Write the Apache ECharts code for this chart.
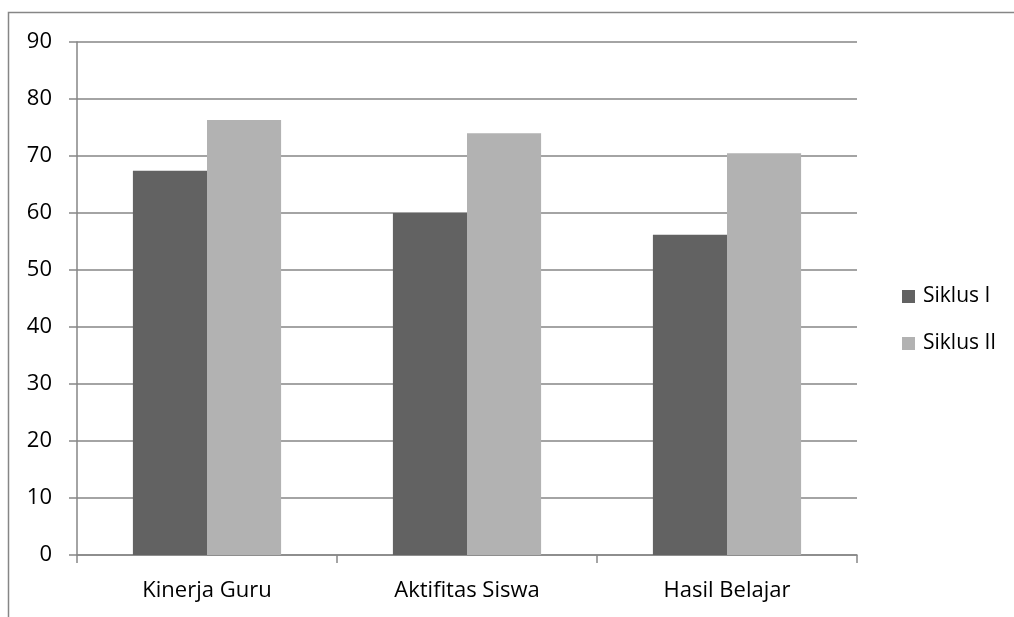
<!DOCTYPE html>
<html>
<head>
<meta charset="utf-8">
<script src="https://cdn.jsdelivr.net/npm/echarts@6/dist/echarts.min.js"></script>
<style>
  html, body { margin: 0; padding: 0; background: #fff; }
  #chart { width: 1014px; height: 617px; }
</style>
</head>
<body>
<div id="chart"></div>
<script>
// data
var categories = ["Kinerja Guru", "Aktifitas Siswa", "Hasil Belajar"];
var siklus1 = [67.4, 60.0, 56.2];
var siklus2 = [76.3, 74.0, 70.5];
var yTicks = { min: 0, max: 90, interval: 10 };

var gridColor = "#868686";
var font = "'Open Sans', 'Liberation Sans', sans-serif";

var chart = echarts.init(document.getElementById("chart"));
chart.setOption({
  backgroundColor: "#fff",
  animation: false,
  graphic: [
    {
      type: "rect",
      shape: { x: 8.5, y: 12.5, width: 1020, height: 640 },
      style: { fill: "none", stroke: gridColor, lineWidth: 1.5 },
      silent: true
    }
  ],
  grid: { left: 77, right: 157, top: 42, bottom: 62 },
  legend: {
    orient: "vertical",
    left: 897,
    top: 281,
    icon: "rect",
    itemWidth: 13,
    itemHeight: 13,
    itemGap: 26,
    textStyle: { fontFamily: font, fontSize: 21, color: "#000", padding: [0, 0, 0, 3] },
    data: ["Siklus I", "Siklus II"]
  },
  xAxis: {
    type: "category",
    data: categories,
    axisLine: { show: true, lineStyle: { color: gridColor, width: 1.5 } },
    axisTick: { show: true, length: 8, alignWithLabel: false, lineStyle: { color: gridColor, width: 1.5 } },
    axisLabel: { fontFamily: font, fontSize: 22, color: "#000", margin: 25 },
    splitLine: { show: false }
  },
  yAxis: {
    type: "value",
    min: yTicks.min,
    max: yTicks.max,
    interval: yTicks.interval,
    axisLine: { show: true, lineStyle: { color: gridColor, width: 1.5 } },
    axisTick: { show: true, length: 8, inside: false, lineStyle: { color: gridColor, width: 1.5 } },
    axisLabel: { fontFamily: font, fontSize: 22, color: "#000", margin: 25 },
    splitLine: { show: true, lineStyle: { color: gridColor, width: 1.5 } }
  },
  series: [
    {
      name: "Siklus I",
      type: "bar",
      data: siklus1,
      barGap: "0%",
      barCategoryGap: "43%",
      itemStyle: { color: "#626262" }
    },
    {
      name: "Siklus II",
      type: "bar",
      data: siklus2,
      barGap: "0%",
      barCategoryGap: "43%",
      itemStyle: { color: "#b2b2b2" }
    }
  ]
});
</script>
</body>
</html>
